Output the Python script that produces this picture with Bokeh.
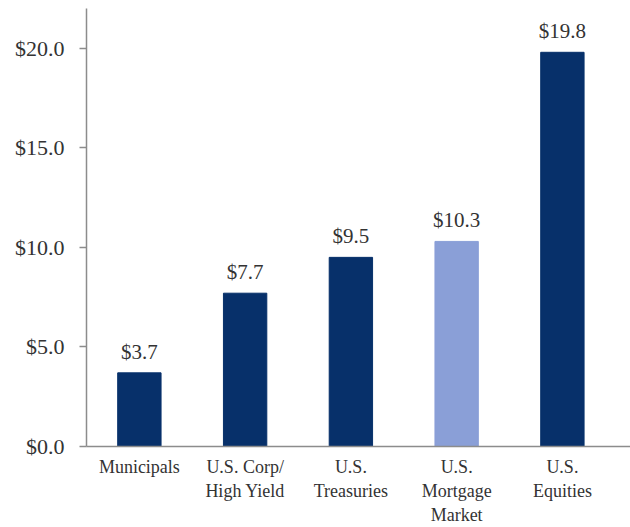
from bokeh.plotting import figure
from bokeh.models import Range1d, FixedTicker, NumeralTickFormatter, ColumnDataSource
from bokeh.embed import file_html
from bokeh.resources import INLINE
from bokeh.core.properties import value

categories = ["Municipals", "U.S. Corp/\nHigh Yield", "U.S.\nTreasuries",
              "U.S.\nMortgage\nMarket", "U.S.\nEquities"]
values = [3.7, 7.7, 9.5, 10.3, 19.8]
value_labels = ["$3.7", "$7.7", "$9.5", "$10.3", "$19.8"]
bar_colors = ["#07306a", "#07306a", "#07306a", "#8a9fd7", "#07306a"]
y_ticks = [0, 5, 10, 15, 20]

xs = [i + 0.5 for i in range(len(categories))]
src = ColumnDataSource(dict(x=xs, top=values, lab=value_labels, color=bar_colors))

FONT = "'Liberation Serif', 'DejaVu Serif', serif"
TXT = "#333333"

p = figure(width=630, height=527, output_backend="svg", toolbar_location=None,
           x_range=Range1d(0, 5.144), y_range=Range1d(0, 22),
           min_border_left=86, min_border_right=0, min_border_top=8, min_border_bottom=80)
p.outline_line_color = None
p.xgrid.visible = False
p.ygrid.visible = False

p.vbar(x="x", top="top", width=0.41, color="color", source=src)
p.text(x="x", y="top", text="lab", source=src, text_align="center",
       text_baseline="alphabetic", y_offset=-21, text_font=value(FONT),
       text_font_size="21px", text_color=TXT)

ya = p.yaxis[0]
ya.ticker = FixedTicker(ticks=y_ticks)
ya.formatter = NumeralTickFormatter(format="$0.0")
ya.major_tick_in = 0
ya.major_tick_out = 7
ya.minor_tick_line_color = None
ya.axis_line_color = "#8c8c8c"
ya.axis_line_width = 1.5
ya.major_tick_line_color = "#8c8c8c"
ya.major_tick_line_width = 1.5
ya.major_label_text_font = FONT
ya.major_label_text_font_size = "22px"
ya.major_label_text_color = TXT
ya.major_label_standoff = 15

xa = p.xaxis[0]
xa.ticker = FixedTicker(ticks=xs)
xa.major_label_overrides = {x: c for x, c in zip(xs, categories)}
xa.major_tick_in = 0
xa.major_tick_out = 0
xa.minor_tick_line_color = None
xa.axis_line_color = "#8c8c8c"
xa.axis_line_width = 1.5
xa.major_label_text_font = FONT
xa.major_label_text_font_size = "18px"
xa.major_label_text_color = TXT
xa.major_label_standoff = 10

open("out.html", "w").write(file_html(p, INLINE))
